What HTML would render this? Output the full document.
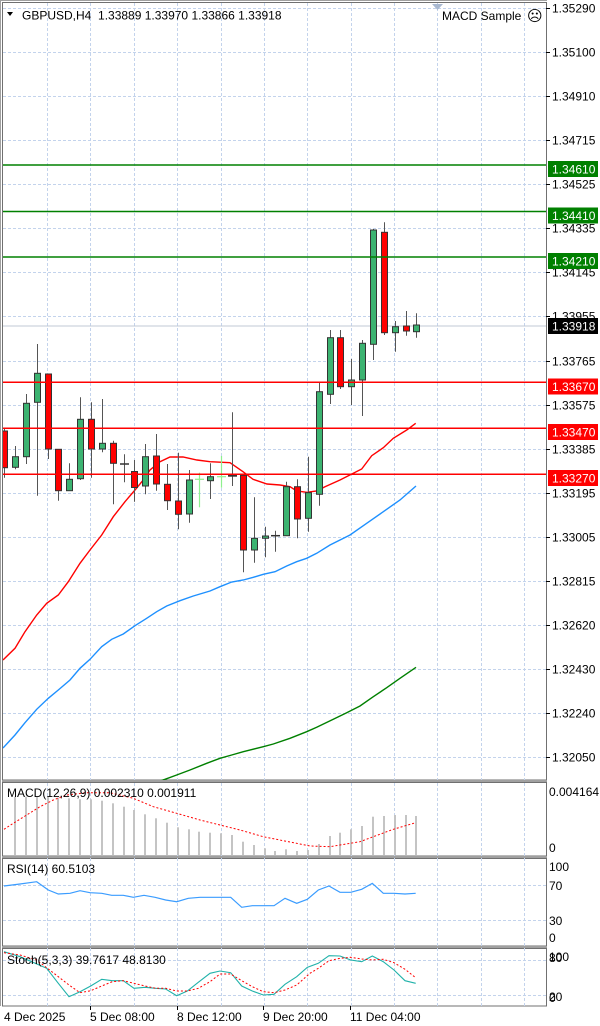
<!DOCTYPE html>
<html><head><meta charset="utf-8"><style>
html,body{margin:0;padding:0;background:#fff;}
svg{display:block;font-family:"Liberation Sans",sans-serif;}
.g{fill:#3cb371;stroke:#333;stroke-width:1}
.r{fill:#ff0000;stroke:#333;stroke-width:1}
.w line{stroke:#555;stroke-width:1}
.grid line{stroke:#c3d3ec;stroke-width:1;stroke-dasharray:3,2}
.ax{font-size:12px;fill:#000}
</style></head><body>
<svg width="600" height="1026" viewBox="0 0 600 1026" xmlns="http://www.w3.org/2000/svg">
<defs>
<clipPath id="cm"><rect x="3" y="3" width="543" height="777"/></clipPath>
<clipPath id="cs"><rect x="3" y="783" width="543" height="222"/></clipPath>
</defs>
<rect width="600" height="1026" fill="#fff"/>
<!-- outer frame -->
<line x1="0.5" y1="0" x2="0.5" y2="1006" stroke="#a0a0a0"/>
<line x1="0" y1="0.5" x2="547" y2="0.5" stroke="#a0a0a0"/>
<rect x="2.5" y="2.5" width="544" height="777.5" fill="none" stroke="#707070"/>
<rect x="2" y="780" width="545" height="2" fill="#a0a0a0"/>
<rect x="2.5" y="782.5" width="544" height="73.5" fill="none" stroke="#707070"/>
<rect x="2" y="856" width="545" height="2" fill="#a0a0a0"/>
<rect x="2.5" y="858.5" width="544" height="87.5" fill="none" stroke="#707070"/>
<rect x="2" y="946" width="545" height="2" fill="#a0a0a0"/>
<rect x="2.5" y="948.5" width="544" height="57.5" fill="none" stroke="#707070"/>

<!-- grid main -->
<g class="grid">
<line x1="47.5" y1="3" x2="47.5" y2="780"/><line x1="90.5" y1="3" x2="90.5" y2="780"/><line x1="134.5" y1="3" x2="134.5" y2="780"/><line x1="177.5" y1="3" x2="177.5" y2="780"/><line x1="221.5" y1="3" x2="221.5" y2="780"/><line x1="264.5" y1="3" x2="264.5" y2="780"/><line x1="307.5" y1="3" x2="307.5" y2="780"/><line x1="351.5" y1="3" x2="351.5" y2="780"/><line x1="394.5" y1="3" x2="394.5" y2="780"/><line x1="437.5" y1="3" x2="437.5" y2="780"/><line x1="481.5" y1="3" x2="481.5" y2="780"/><line x1="524.5" y1="3" x2="524.5" y2="780"/>
<line x1="3" y1="8.5" x2="546" y2="8.5"/><line x1="3" y1="52.5" x2="546" y2="52.5"/><line x1="3" y1="96.5" x2="546" y2="96.5"/><line x1="3" y1="140.5" x2="546" y2="140.5"/><line x1="3" y1="184.5" x2="546" y2="184.5"/><line x1="3" y1="228.5" x2="546" y2="228.5"/><line x1="3" y1="272.5" x2="546" y2="272.5"/><line x1="3" y1="316.5" x2="546" y2="316.5"/><line x1="3" y1="361.5" x2="546" y2="361.5"/><line x1="3" y1="405.5" x2="546" y2="405.5"/><line x1="3" y1="449.5" x2="546" y2="449.5"/><line x1="3" y1="493.5" x2="546" y2="493.5"/><line x1="3" y1="537.5" x2="546" y2="537.5"/><line x1="3" y1="581.5" x2="546" y2="581.5"/><line x1="3" y1="625.5" x2="546" y2="625.5"/><line x1="3" y1="669.5" x2="546" y2="669.5"/><line x1="3" y1="713.5" x2="546" y2="713.5"/><line x1="3" y1="757.5" x2="546" y2="757.5"/>
<!-- grid sub -->
<line x1="47.5" y1="783" x2="47.5" y2="1006"/><line x1="90.5" y1="783" x2="90.5" y2="1006"/><line x1="134.5" y1="783" x2="134.5" y2="1006"/><line x1="177.5" y1="783" x2="177.5" y2="1006"/><line x1="221.5" y1="783" x2="221.5" y2="1006"/><line x1="264.5" y1="783" x2="264.5" y2="1006"/><line x1="307.5" y1="783" x2="307.5" y2="1006"/><line x1="351.5" y1="783" x2="351.5" y2="1006"/><line x1="394.5" y1="783" x2="394.5" y2="1006"/><line x1="437.5" y1="783" x2="437.5" y2="1006"/><line x1="481.5" y1="783" x2="481.5" y2="1006"/><line x1="524.5" y1="783" x2="524.5" y2="1006"/>
<line x1="3" y1="885.5" x2="546" y2="885.5"/><line x1="3" y1="920.5" x2="546" y2="920.5"/>
<line x1="3" y1="960.5" x2="546" y2="960.5"/><line x1="3" y1="995.5" x2="546" y2="995.5"/>
</g>

<!-- axis ticks -->
<g stroke="#000" stroke-width="1">
<line x1="546" y1="8.5" x2="550" y2="8.5"/><line x1="546" y1="52.5" x2="550" y2="52.5"/><line x1="546" y1="96.5" x2="550" y2="96.5"/><line x1="546" y1="140.5" x2="550" y2="140.5"/><line x1="546" y1="184.5" x2="550" y2="184.5"/><line x1="546" y1="228.5" x2="550" y2="228.5"/><line x1="546" y1="272.5" x2="550" y2="272.5"/><line x1="546" y1="316.5" x2="550" y2="316.5"/><line x1="546" y1="361.5" x2="550" y2="361.5"/><line x1="546" y1="405.5" x2="550" y2="405.5"/><line x1="546" y1="449.5" x2="550" y2="449.5"/><line x1="546" y1="493.5" x2="550" y2="493.5"/><line x1="546" y1="537.5" x2="550" y2="537.5"/><line x1="546" y1="581.5" x2="550" y2="581.5"/><line x1="546" y1="625.5" x2="550" y2="625.5"/><line x1="546" y1="669.5" x2="550" y2="669.5"/><line x1="546" y1="713.5" x2="550" y2="713.5"/><line x1="546" y1="757.5" x2="550" y2="757.5"/>
<line x1="90.5" y1="1006" x2="90.5" y2="1010"/><line x1="177.5" y1="1006" x2="177.5" y2="1010"/><line x1="263.5" y1="1006" x2="263.5" y2="1010"/><line x1="350.5" y1="1006" x2="350.5" y2="1010"/>
</g>

<!-- price axis labels -->
<g class="ax">
<text x="552" y="12.5">1.35290</text>
<text x="552" y="56.5">1.35100</text>
<text x="552" y="100.5">1.34910</text>
<text x="552" y="144.5">1.34715</text>
<text x="552" y="188.5">1.34525</text>
<text x="552" y="232.5">1.34335</text>
<text x="552" y="276.5">1.34145</text>
<text x="552" y="320.5">1.33955</text>
<text x="552" y="365.5">1.33765</text>
<text x="552" y="409.5">1.33575</text>
<text x="552" y="453.5">1.33385</text>
<text x="552" y="497.5">1.33195</text>
<text x="552" y="541.5">1.33005</text>
<text x="552" y="585.5">1.32815</text>
<text x="552" y="629.5">1.32620</text>
<text x="552" y="673.5">1.32430</text>
<text x="552" y="717.5">1.32240</text>
<text x="552" y="761.5">1.32050</text>
</g>

<!-- main chart content -->
<g clip-path="url(#cm)">
<line x1="3" y1="326" x2="546" y2="326" stroke="#c0c8d4" stroke-width="1"/>
<polyline fill="none" stroke="#008000" stroke-width="1.4" points="160,781 165,779.3 176.7,775 190,770 206.7,763.3 220,758.3 231.7,755 243.3,751.7 263.3,746.7 273.3,744 290,738.3 306.7,731.7 316.7,727.3 333.3,719.3 346.7,712.7 360,706 373.3,696.7 386.7,687.7 400,678.3 416,667.3"/>
<polyline fill="none" stroke="#1e90ff" stroke-width="1.4" points="3,748 15,735 25,722.7 36.7,709.3 48.3,698.3 58.3,690 70,680 80,668.3 90,659.3 101.7,646.7 111.7,639.3 123.3,634 135,625.7 146.7,618.3 156.7,611.7 166.7,606 180,600.7 193.3,596 210,591 220,586.7 231.7,582 243.3,580 253.3,577.3 263.3,574.3 275,571.7 286.7,566 296.7,561.7 306.7,558.3 316.7,553.3 330,545 350,535 366.7,523.3 383.3,511.7 400,500 416,486"/>
<polyline fill="none" stroke="#ff0000" stroke-width="1.4" points="3,660 15,648.3 25,631.7 36.7,615 46.7,603.3 58.3,595 68.3,581.7 80,563.3 90,550 101.7,535 113.3,516.7 125,501.7 135,490 143.3,480 150,470 160,461.7 170,457 183,457 197,460 210,461.7 230,462.7 243,471.7 253,479.3 267,484 280,485 290,486.7 296.7,491 306.7,492.3 316.7,491 325,486.7 340,480 361.7,469 371.7,455.7 383.3,447.7 393.3,438.3 406.7,430 415.7,423.3"/>

<g class="w">
<line x1="4.5" y1="428" x2="4.5" y2="477.7"/>
<line x1="15.5" y1="446" x2="15.5" y2="469.3"/>
<line x1="26.5" y1="394" x2="26.5" y2="464"/>
<line x1="37.5" y1="344" x2="37.5" y2="495.7"/>
<line x1="48.5" y1="374" x2="48.5" y2="459"/>
<line x1="58.5" y1="449" x2="58.5" y2="500.7"/>
<line x1="69.5" y1="463.3" x2="69.5" y2="491"/>
<line x1="80.5" y1="397.3" x2="80.5" y2="480"/>
<line x1="91.5" y1="402.3" x2="91.5" y2="477.7"/>
<line x1="102.5" y1="399" x2="102.5" y2="452.3"/>
<line x1="113.5" y1="440.7" x2="113.5" y2="504.3"/>
<line x1="124.5" y1="454.3" x2="124.5" y2="482.3"/>
<line x1="134.5" y1="460" x2="134.5" y2="501.7"/>
<line x1="145.5" y1="444" x2="145.5" y2="494.3"/>
<line x1="156.5" y1="434" x2="156.5" y2="490.7"/>
<line x1="167.5" y1="464" x2="167.5" y2="510"/>
<line x1="178.5" y1="452.7" x2="178.5" y2="529.3"/>
<line x1="189.5" y1="470" x2="189.5" y2="522.7"/>
<line x1="210.5" y1="463.3" x2="210.5" y2="499"/>
<line x1="232.5" y1="412.3" x2="232.5" y2="486"/>
<line x1="243.5" y1="475" x2="243.5" y2="572.3"/>
<line x1="254.5" y1="497.3" x2="254.5" y2="562.7"/>
<line x1="265.5" y1="526.7" x2="265.5" y2="557.3"/>
<line x1="275.5" y1="530.7" x2="275.5" y2="551.7"/>
<line x1="286.5" y1="481.7" x2="286.5" y2="535.7"/>
<line x1="297.5" y1="479.3" x2="297.5" y2="538.3"/>
<line x1="308.5" y1="456.7" x2="308.5" y2="531.7"/>
<line x1="319.5" y1="382.7" x2="319.5" y2="505.7"/>
<line x1="330.5" y1="330" x2="330.5" y2="404"/>
<line x1="340.5" y1="330" x2="340.5" y2="389"/>
<line x1="351.5" y1="359" x2="351.5" y2="405"/>
<line x1="362.5" y1="340" x2="362.5" y2="416"/>
<line x1="373.5" y1="229" x2="373.5" y2="360"/>
<line x1="384.5" y1="222.3" x2="384.5" y2="335"/>
<line x1="395.5" y1="321" x2="395.5" y2="351.7"/>
<line x1="406.5" y1="311" x2="406.5" y2="335.7"/>
<line x1="416.5" y1="313.3" x2="416.5" y2="337.7"/>
</g>
<g stroke-width="1.5">
<line x1="120" y1="464" x2="129" y2="464" stroke="#333"/>
<line x1="228" y1="475.7" x2="237" y2="475.7" stroke="#333" stroke-width="2"/>
<line x1="271" y1="535.7" x2="280" y2="535.7" stroke="#333"/>
</g>
<g stroke="#8ef08e" stroke-width="1.2">
<line x1="199.5" y1="472.7" x2="199.5" y2="507.3"/><line x1="195" y1="479.3" x2="204" y2="479.3"/>
<line x1="221.5" y1="456" x2="221.5" y2="487.7"/><line x1="217" y1="476.7" x2="226" y2="476.7"/>
</g>
<rect class="r" x="1.5" y="431" width="6" height="36.7"/>
<rect class="g" x="12.5" y="456.7" width="6" height="10.6"/>
<rect class="g" x="23.5" y="403.3" width="6" height="53.4"/>
<rect class="g" x="34.5" y="373.3" width="6" height="29"/>
<rect class="r" x="45.5" y="374" width="6" height="75"/>
<rect class="r" x="55.5" y="449.3" width="6" height="41.4"/>
<rect class="g" x="66.5" y="479.3" width="6" height="11.4"/>
<rect class="g" x="77.5" y="419.3" width="6" height="59.4"/>
<rect class="r" x="88.5" y="419.3" width="6" height="29.7"/>
<rect class="g" x="99.5" y="443.3" width="6" height="5.7"/>
<rect class="r" x="110.5" y="443.3" width="6" height="20"/>
<rect class="r" x="131.5" y="471.5" width="6" height="16"/>
<rect class="g" x="142.5" y="456.7" width="6" height="29.3"/>
<rect class="r" x="153.5" y="456" width="6" height="28"/>
<rect class="r" x="164.5" y="484.3" width="6" height="16.4"/>
<rect class="r" x="175.5" y="501" width="6" height="13.3"/>
<rect class="g" x="186.5" y="480" width="6" height="34"/>
<rect class="g" x="207.5" y="476.7" width="6" height="4"/>
<rect class="r" x="240.5" y="475.3" width="6" height="74.7"/>
<rect class="g" x="251.5" y="538.3" width="6" height="11.7"/>
<rect class="g" x="262.5" y="536" width="6" height="2.3"/>
<rect class="g" x="283.5" y="486.7" width="6" height="49"/>
<rect class="r" x="294.5" y="486.7" width="6" height="32.3"/>
<rect class="g" x="305.5" y="492.7" width="6" height="25.6"/>
<rect class="g" x="316.5" y="391.7" width="6" height="102.6"/>
<rect class="g" x="327.5" y="337.7" width="6" height="56.6"/>
<rect class="r" x="337.5" y="337.7" width="6" height="49"/>
<rect class="g" x="348.5" y="380" width="6" height="6.7"/>
<rect class="g" x="359.5" y="343.3" width="6" height="36.7"/>
<rect class="g" x="370.5" y="230" width="6" height="114.3"/>
<rect class="r" x="381.5" y="232.3" width="6" height="100.4"/>
<rect class="g" x="392.5" y="326.7" width="6" height="6"/>
<rect class="r" x="403.5" y="326" width="6" height="5"/>
<rect class="g" x="413.5" y="325" width="6" height="6.7"/>

<g stroke-width="1.5">
<line x1="3" y1="165" x2="546" y2="165" stroke="#008000"/>
<line x1="3" y1="211.5" x2="546" y2="211.5" stroke="#008000"/>
<line x1="3" y1="257" x2="546" y2="257" stroke="#008000"/>
<line x1="3" y1="382.3" x2="546" y2="382.3" stroke="#ff0000"/>
<line x1="3" y1="428.3" x2="546" y2="428.3" stroke="#ff0000"/>
<line x1="3" y1="474.3" x2="546" y2="474.3" stroke="#ff0000"/>
</g>
</g>

<g font-size="12" fill="#fff">
<rect x="548" y="161" width="50" height="16" fill="#008000"/><text x="552" y="173.5">1.34610</text>
<rect x="548" y="207.5" width="50" height="16" fill="#008000"/><text x="552" y="220">1.34410</text>
<rect x="548" y="253" width="50" height="16" fill="#008000"/><text x="552" y="265.5">1.34210</text>
<rect x="548" y="318" width="50" height="16" fill="#000"/><text x="552" y="330.5">1.33918</text>
<rect x="548" y="378.5" width="50" height="16" fill="#ff0000"/><text x="552" y="391">1.33670</text>
<rect x="548" y="424" width="50" height="16" fill="#ff0000"/><text x="552" y="436.5">1.33470</text>
<rect x="548" y="470" width="50" height="16" fill="#ff0000"/><text x="552" y="482.5">1.33270</text>
</g>

<polygon points="7,12 13,12 10,16" fill="#000"/>
<text x="22" y="19.5" font-size="12" fill="#000" xml:space="preserve">GBPUSD,H4  1.33889 1.33970 1.33866 1.33918</text>
<polygon points="432,4 443,4 437.5,10" fill="#a8b8d0"/>
<text x="442" y="20" font-size="12" fill="#000">MACD Sample</text>
<text x="527" y="21" font-size="15" fill="#000" font-family="DejaVu Sans, sans-serif">☹</text>

<g clip-path="url(#cs)">
<g fill="#c4c4c4">
<rect x="14" y="796.7" width="2" height="58.3"/>
<rect x="25" y="796.7" width="2" height="58.3"/>
<rect x="36" y="796.7" width="2" height="58.3"/>
<rect x="47" y="796.7" width="2" height="58.3"/>
<rect x="57" y="797.7" width="2" height="57.3"/>
<rect x="68" y="798.3" width="2" height="56.7"/>
<rect x="79" y="799.3" width="2" height="55.7"/>
<rect x="90" y="799.3" width="2" height="55.7"/>
<rect x="101" y="800.7" width="2" height="54.3"/>
<rect x="112" y="803.3" width="2" height="51.7"/>
<rect x="123" y="806.7" width="2" height="48.3"/>
<rect x="133" y="810" width="2" height="45"/>
<rect x="144" y="814.3" width="2" height="40.7"/>
<rect x="155" y="818.3" width="2" height="36.7"/>
<rect x="166" y="822.7" width="2" height="32.3"/>
<rect x="177" y="827.3" width="2" height="27.7"/>
<rect x="188" y="829.3" width="2" height="25.7"/>
<rect x="198" y="831.7" width="2" height="23.3"/>
<rect x="209" y="832.7" width="2" height="22.3"/>
<rect x="220" y="833.3" width="2" height="21.7"/>
<rect x="231" y="835" width="2" height="20"/>
<rect x="242" y="841.7" width="2" height="13.3"/>
<rect x="253" y="845" width="2" height="10"/>
<rect x="264" y="848.3" width="2" height="6.7"/>
<rect x="274" y="851" width="2" height="4"/>
<rect x="285" y="849.3" width="2" height="5.7"/>
<rect x="296" y="851" width="2" height="4"/>
<rect x="307" y="850" width="2" height="5"/>
<rect x="318" y="844" width="2" height="11"/>
<rect x="329" y="836" width="2" height="19"/>
<rect x="339" y="832.7" width="2" height="22.3"/>
<rect x="350" y="829.3" width="2" height="25.7"/>
<rect x="361" y="826" width="2" height="29"/>
<rect x="372" y="816.7" width="2" height="38.3"/>
<rect x="383" y="816" width="2" height="39"/>
<rect x="394" y="815" width="2" height="40"/>
<rect x="405" y="815" width="2" height="40"/>
<rect x="415" y="816" width="2" height="39"/>
</g>
<polyline fill="none" stroke="#ff0000" stroke-width="1" stroke-dasharray="2,2" points="4,829.3 13.3,823.3 26.7,815 40,806.7 53.3,800 66.7,795 86.7,792.7 110,792.7 133.3,798.3 153.3,806.7 176.7,813.3 200,820 220,825 240,830 263.3,836.7 283.3,840.7 300,844 310,846 330,846.7 340,845 360,841.7 373.3,836.7 393.3,829.3 415.7,822.7"/>
<polyline fill="none" stroke="#3a9cff" stroke-width="1.2" points="4,886 20,884 36.7,881.7 48.3,890 58.3,894 70,893.3 80,890.7 90,892.7 101.7,893.3 111.7,895.3 123.3,895.3 133.3,897.3 144,895.3 155,897.3 165.7,900 176.7,901.7 188.3,898.3 200,897.3 210,897.3 230.7,897.3 241.7,907.3 252.3,905.7 274,905.7 285,898.3 296.7,903.3 307.3,899.3 318.3,890 329,886 340,892.3 350.7,892.3 361.7,889.3 372.3,883.3 383.3,893.3 394,893.3 405,894 415.7,893.3"/>
<polyline fill="none" stroke="#20b2aa" stroke-width="1.1" points="4,951.7 20,956.7 46.7,968.3 58.3,983.3 69,996.7 80,991.7 90.7,986 101.7,979.3 112.3,980.7 123.3,980.7 134,988.3 145,987.3 155.7,988.3 165.7,989 176.7,995.7 187.3,991 198.3,982.3 210,973.3 220,971 230.7,972.7 241.7,986 252.3,991 263.3,995 274,994.3 285,984.3 296.7,976.7 307.3,967.3 318.3,963.3 329,955.7 340,956 350.7,960 361.7,961.7 372.3,956 383.3,961.7 394,970 405,980.7 415.7,983.3"/>
<polyline fill="none" stroke="#ff0000" stroke-width="1" stroke-dasharray="2,2" points="4,952.7 20,955 36.7,960 58.3,976.7 69,985 80,992.7 90.7,990.7 101.7,986 112.3,981.7 123.3,980.7 134,983.3 145,986 155.7,988.3 165.7,988.3 176.7,991 187.3,991 198.3,988.3 210,981.7 220,974 230.7,974 241.7,980.7 252.3,986.7 263.3,991.7 274,992.7 285,990 296.7,985 310,973.3 318.3,968.3 329,960.7 340,958.3 350.7,957.3 361.7,959 372.3,960 383.3,959.3 394,962.7 405,969.3 415.7,977.7"/>
</g>

<g font-size="12" fill="#000">
<text x="7" y="797">MACD(12,26,9) 0.002310 0.001911</text>
<text x="7" y="873">RSI(14) 60.5103</text>
<text x="7" y="964">Stoch(5,3,3) 39.7617 48.8130</text>
</g>
<g class="ax">
<text x="549" y="796">0.004164</text>
<text x="549" y="852">0</text>
<text x="549" y="871">100</text>
<text x="549" y="890">70</text>
<text x="549" y="925">30</text>
<text x="549" y="942">0</text>
<text x="549" y="961">100</text>
<text x="549" y="962">80</text>
<text x="549" y="1001">20</text>
<text x="549" y="1002">0</text>
</g>
<g font-size="12" fill="#000">
<text x="4" y="1021">4 Dec 2025</text>
<text x="90" y="1021">5 Dec 08:00</text>
<text x="177" y="1021">8 Dec 12:00</text>
<text x="263" y="1021">9 Dec 20:00</text>
<text x="350" y="1021">11 Dec 04:00</text>
</g>
</svg>
</body></html>
